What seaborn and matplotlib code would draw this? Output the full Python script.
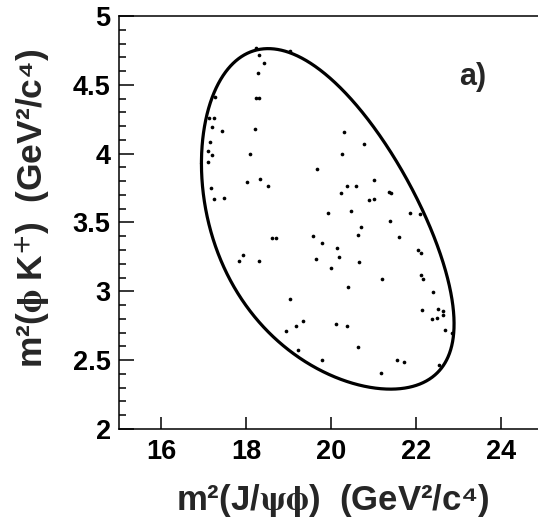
import numpy as np
import matplotlib
matplotlib.use("Agg")
import matplotlib.pyplot as plt
import seaborn as sns
from matplotlib.ticker import MultipleLocator, FormatStrFormatter

# Particle masses (GeV/c^2) defining the Dalitz boundary of B+ -> J/psi phi K+
M_B = 5.27934
M_JPSI = 3.0969
M_PHI = 1.019461
M_K = 0.493677

# Events: m^2(J/psi phi) and m^2(phi K+) (GeV^2/c^4)
m2_jpsiphi = [18.22, 18.30, 18.42, 18.29, 18.23, 18.30, 19.04, 17.27, 17.13, 17.25,
              17.20, 17.44, 18.21, 17.15, 17.10, 17.20, 18.10, 17.10, 19.67, 17.16,
              18.01, 18.33, 18.51, 17.23, 17.48, 19.92, 18.60, 18.71, 19.57, 19.79,
              17.93, 17.83, 18.30, 19.64, 19.99, 19.03, 19.33, 19.17, 18.94, 19.23,
              19.79, 20.30, 20.79, 20.25, 20.37, 20.58, 21.01, 20.24, 21.36, 21.42,
              20.89, 21.01, 20.47, 21.86, 22.11, 21.39, 20.70, 20.64, 21.60, 20.14,
              20.18, 20.66, 22.05, 22.12, 21.20, 22.12, 22.18, 20.40, 22.41, 20.11,
              20.37, 22.14, 22.52, 22.65, 22.63, 22.49, 22.38, 22.70, 22.86, 20.63,
              21.56, 21.71, 21.18, 22.55]
m2_phik = [4.765, 4.720, 4.655, 4.586, 4.401, 4.401, 4.745, 4.414, 4.257, 4.257,
           4.191, 4.164, 4.182, 4.086, 4.021, 3.993, 3.999, 3.937, 3.888, 3.753,
           3.793, 3.816, 3.765, 3.672, 3.675, 3.570, 3.385, 3.385, 3.405, 3.350,
           3.262, 3.220, 3.222, 3.233, 3.170, 2.941, 2.786, 2.749, 2.713, 2.572,
           2.502, 4.154, 4.070, 4.001, 3.765, 3.765, 3.807, 3.712, 3.720, 3.711,
           3.662, 3.673, 3.583, 3.566, 3.559, 3.514, 3.466, 3.412, 3.393, 3.314,
           3.249, 3.212, 3.301, 3.281, 3.093, 3.119, 3.093, 3.028, 2.993, 2.764,
           2.746, 2.864, 2.869, 2.857, 2.827, 2.809, 2.796, 2.717, 2.698, 2.596,
           2.499, 2.484, 2.410, 2.467]

x_ticks = [16, 18, 20, 22, 24]
y_ticks = [2, 2.5, 3, 3.5, 4, 4.5, 5]

# Dalitz boundary from kinematics
x_lo = (M_JPSI + M_PHI) ** 2
x_hi = (M_B - M_K) ** 2
t = np.linspace(0, np.pi, 800)
x_b = x_lo + (x_hi - x_lo) * (1 - np.cos(t)) / 2
m12 = np.sqrt(x_b)
E2 = (x_b - M_JPSI**2 + M_PHI**2) / (2 * m12)
E3 = (M_B**2 - x_b - M_K**2) / (2 * m12)
p2 = np.sqrt(np.clip(E2**2 - M_PHI**2, 0, None))
p3 = np.sqrt(np.clip(E3**2 - M_K**2, 0, None))
y_up = (E2 + E3) ** 2 - (p2 - p3) ** 2
y_dn = (E2 + E3) ** 2 - (p2 + p3) ** 2
bx = np.concatenate([x_b, x_b[::-1], x_b[:1]])
by = np.concatenate([y_dn, y_up[::-1], y_dn[:1]])

sns.set_style("ticks")
plt.rcParams["font.family"] = ["Liberation Sans", "DejaVu Sans"]
plt.rcParams["font.weight"] = "bold"
plt.rcParams["mathtext.fontset"] = "stix"

fig = plt.figure(figsize=(5.38, 5.20), dpi=100)
ax = fig.add_axes([119 / 538, 1 - 429 / 520, 1 - 119 / 538, (429 - 16) / 520])

sns.lineplot(x=bx, y=by, sort=False, estimator=None, color="black",
             linewidth=2.3, ax=ax)
sns.scatterplot(x=m2_jpsiphi, y=m2_phik, color="black", s=7, marker="o",
                linewidth=0, ax=ax)

ax.set_xlim(15, 15 + (538 - 119) / 42.4)
ax.set_ylim(2, 5)
ax.set_xticks(x_ticks)
ax.set_yticks(y_ticks)
ax.yaxis.set_minor_locator(MultipleLocator(0.1))
ax.yaxis.set_major_formatter(FormatStrFormatter("%g"))
ax.tick_params(axis="both", which="both", direction="in", width=1.1,
               labelsize=19.5, colors="black")
ax.tick_params(axis="y", which="major", length=10.5, pad=6)
ax.tick_params(axis="y", which="minor", length=5.3)
ax.tick_params(axis="x", which="major", length=9, pad=7)
for lab in ax.get_xticklabels() + ax.get_yticklabels():
    lab.set_fontweight("bold")

for s in ["left", "bottom", "top"]:
    ax.spines[s].set_visible(True)
    ax.spines[s].set_linewidth(1.1)
    ax.spines[s].set_color("black")
ax.spines["right"].set_visible(False)

ax.set_xlabel("m²(J/$\\mathrm{\\psi\\phi}$)  (GeV²/c⁴)", fontsize=25,
              fontweight="bold", va="center", ha="center")
ax.xaxis.set_label_coords(0.511, -0.172)
ax.set_ylabel("m²($\\mathrm{\\phi}$ K$^{+}$)  (GeV²/c⁴)", fontsize=25.5,
              fontweight="bold", va="center", ha="center")
ax.yaxis.set_label_coords(-0.205, 0.535)

ax.text(23.33, 4.555, "a)", fontsize=22, fontweight="bold", ha="center",
        va="center")

fig.savefig("out.png", dpi=100)
